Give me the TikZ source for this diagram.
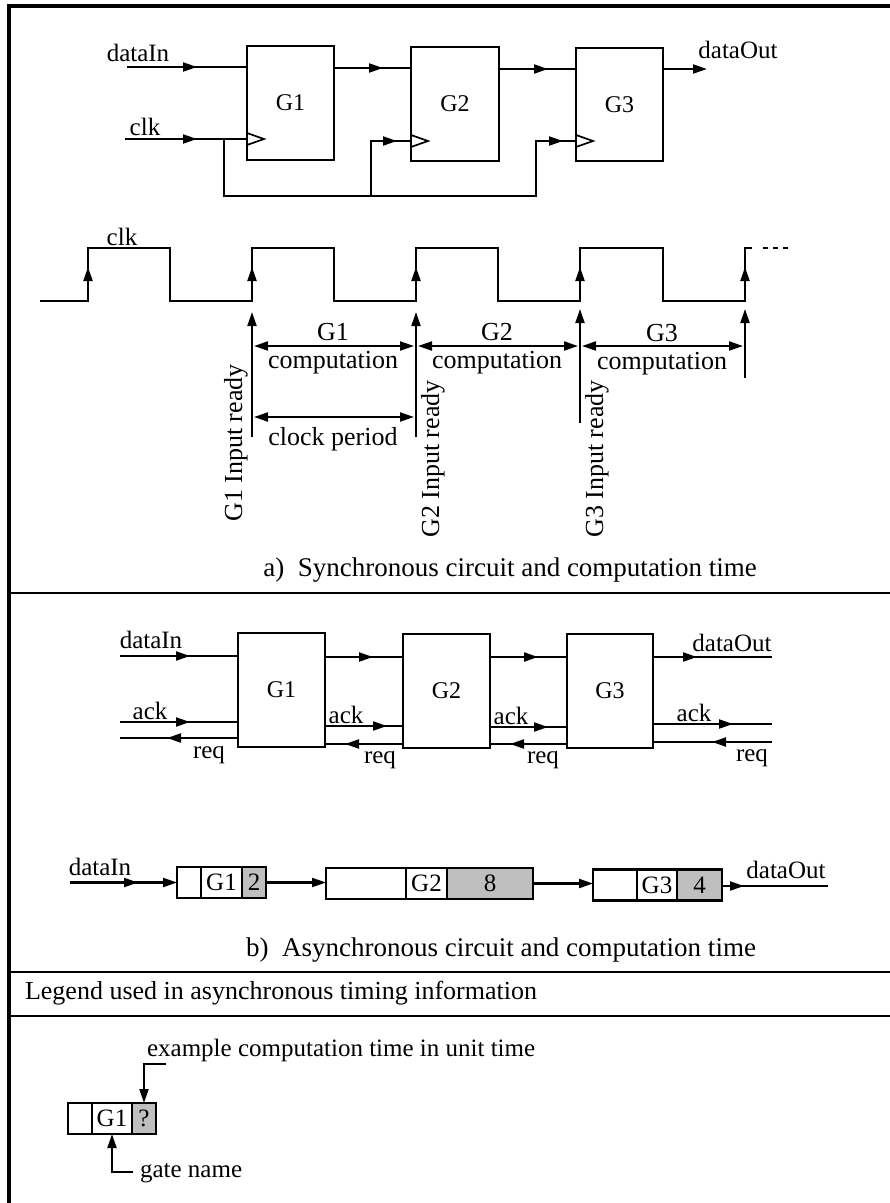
\documentclass[tikz,border=0pt]{standalone}
\usepackage{fontspec}
\setmainfont{Liberation Serif}
\usetikzlibrary{arrows.meta,decorations.markings}
\begin{document}
\begin{tikzpicture}[x=1pt,y=-1pt,line width=2.1pt,
  >={Triangle[length=14pt,width=9pt]},
  marr/.style={postaction={decorate},decoration={markings,mark=at position #1 with {\arrow{>}}}},
  gbox/.style={draw,rectangle,inner sep=0pt,outer sep=0pt,anchor=north west,font=\fontsize{24}{26}\selectfont},
  lab/.style={inner sep=0pt,font=\fontsize{25}{27}\selectfont},
  tlab/.style={inner sep=0pt,font=\fontsize{26}{28}\selectfont},
  rot/.style={inner sep=0pt,rotate=90,font=\fontsize{26}{28}\selectfont},
  captext/.style={inner sep=0pt,font=\fontsize{27}{29}\selectfont},
  cell/.style={draw,rectangle,inner sep=0pt,outer sep=0pt,anchor=west,minimum height=31pt,font=\fontsize{25}{27}\selectfont},
  gcell/.style={cell,fill=gray!50},
  sepline/.style={line width=2.5pt}]
\useasboundingbox (0,0) rectangle (890,1203);
\fill[white] (0,0) rectangle (890,1203);
% frame
\draw[line width=4pt] (9,1203) -- (9,5.5) -- (890,5.5);
\draw[sepline] (9,593) -- (890,593);
\draw[sepline] (9,972) -- (890,972);
\draw[sepline] (9,1016) -- (890,1016);

% ================= a) synchronous circuit
\node[gbox,minimum width=87pt,minimum height=114pt] (A1) at (247,46) {G1};
\node[gbox,minimum width=88pt,minimum height=114pt] (A2) at (411,47) {G2};
\node[gbox,minimum width=87pt,minimum height=113pt] (A3) at (576,48) {G3};
\node[lab] (tdin) at (138,53) {dataIn};
\node[lab] (tclk) at (145,127) {clk};
\node[lab] (tdout) at (738,50) {dataOut};
% clock triangles
\draw[line width=1.7pt] (247,133) -- (264,139) -- (247,145);
\draw[line width=1.7pt] (411,135) -- (428,141) -- (411,147);
\draw[line width=1.7pt] (576,135) -- (593,141) -- (576,147);
% data connectors
\coordinate (din0) at (127,67);
\draw[marr=70pt] (din0) -- (din0 -| A1.west);
\coordinate (A1o) at (334,68);
\draw[marr=49pt] (A1o) -- (A1o -| A2.west);
\coordinate (A2o) at (499,69);
\draw[marr=49pt] (A2o) -- (A2o -| A3.west);
\coordinate (A3o) at (663,69);
\coordinate (dout) at (707,69);
\draw[->] (A3o) -- (dout);
% clock connectors
\coordinate (clk0) at (125,139);
\draw[marr=72pt] (clk0) -- (clk0 -| A1.west);
\coordinate (br0) at (224,139);
\coordinate (br1) at (371,196);
\coordinate (br3) at (536,196);
\coordinate (A2ck) at (411,141);
\coordinate (A3ck) at (576,141);
\draw[marr=-14pt] (br0) |- (br1) |- (A2ck);
\draw[marr=-13pt] (br1) -- (br3) |- (A3ck);

% clock waveform
\node[lab] (wclk) at (122,237) {clk};
\draw (40,301) -- (88,301) -- (88,248) -- (170,248) -- (170,301) -- (252,301) -- (252,248)
  -- (334,248) -- (334,301) -- (416,301) -- (416,248) -- (498,248) -- (498,301) -- (580,301)
  -- (580,248) -- (663,248) -- (663,301) -- (745,301) -- (745,248) -- (752,248);
\draw[dash pattern=on 5pt off 5pt] (763,248) -- (790,248);
\foreach \xx in {88,252,416,580,745} { \draw[->] (\xx,301) -- (\xx,267); }

% input-ready arrows
\coordinate (r1b) at (252,437); \coordinate (r1t) at (252,312);
\coordinate (r2b) at (416,437); \coordinate (r2t) at (416,312);
\coordinate (r3b) at (580,423); \coordinate (r3t) at (580,309);
\coordinate (r4b) at (745,378); \coordinate (r4t) at (745,309);
\draw[->] (r1b) -- (r1t);
\draw[->] (r2b) -- (r2t);
\draw[->] (r3b) -- (r3t);
\draw[->] (r4b) -- (r4t);
% durations
\coordinate (c1a) at (254,346); \coordinate (c1b) at (414,346);
\coordinate (c2a) at (418,346); \coordinate (c2b) at (578,346);
\coordinate (c3a) at (582,346); \coordinate (c3b) at (743,346);
\coordinate (p1a) at (254,417); \coordinate (p1b) at (414,417);
\draw[<->] (c1a) -- (c1b);
\draw[<->] (c2a) -- (c2b);
\draw[<->] (c3a) -- (c3b);
\draw[<->] (p1a) -- (p1b);
\node[tlab] (g1t) at (333,332) {G1};
\node[tlab] (g1c) at (333,363) {computation};
\node[tlab] (g1p) at (333,439) {clock period};
\node[tlab] (g2t) at (497,332) {G2};
\node[tlab] (g2c) at (497,363) {computation};
\node[tlab] (g3t) at (662,333) {G3};
\node[tlab] (g3c) at (662,364) {computation};
\node[rot] (rd1) at (236,443) {G1 Input ready};
\node[rot] (rd2) at (433,459) {G2 Input ready};
\node[rot] (rd3) at (597,459) {G3 Input ready};
\node[captext] (capa) at (510,570) {a)\ \ Synchronous circuit and computation time};

% ================= b) asynchronous circuit
\node[gbox,minimum width=87pt,minimum height=114pt] (B1) at (238,633) {G1};
\node[gbox,minimum width=87pt,minimum height=114pt] (B2) at (403,634) {G2};
\node[gbox,minimum width=86pt,minimum height=114pt] (B3) at (567,634) {G3};
\node[lab] (bdin) at (151,640) {dataIn};
\node[lab] (back0) at (150,711) {ack};
\node[lab] (breq0) at (209,755) {req};
\node[lab] (back1) at (346,715) {ack};
\node[lab] (breq1) at (380,760) {req};
\node[lab] (back2) at (511,716) {ack};
\node[lab] (breq2) at (543,760) {req};
\node[lab] (bdout) at (732,643) {dataOut};
\node[lab] (back3) at (694,713) {ack};
\node[lab] (breq3) at (752,758) {req};
% inputs
\coordinate (bd0) at (120,656);
\draw[marr=70pt] (bd0) -- (bd0 -| B1.west);
\coordinate (ba0) at (120,722);
\draw[marr=70pt] (ba0) -- (ba0 -| B1.west);
\coordinate (bq0) at (120,738);
\draw[marr=71pt] (bq0 -| B1.west) -- (bq0);
% between G1 and G2
\coordinate (bd1) at (325,657);
\draw[marr=48pt] (bd1) -- (bd1 -| B2.west);
\coordinate (ba1) at (325,726);
\draw[marr=62pt] (ba1) -- (ba1 -| B2.west);
\coordinate (bq1) at (325,744);
\draw[marr=58pt] (bq1 -| B2.west) -- (bq1);
% between G2 and G3
\coordinate (bd2) at (490,657);
\draw[marr=48pt] (bd2) -- (bd2 -| B3.west);
\coordinate (ba2) at (490,727);
\draw[marr=58pt] (ba2) -- (ba2 -| B3.west);
\coordinate (bq2) at (490,744);
\draw[marr=57pt] (bq2 -| B3.west) -- (bq2);
% outputs
\coordinate (bd3) at (772,657);
\draw[marr=44pt] (bd3 -| B3.east) -- (bd3);
\coordinate (ba3) at (772,724);
\draw[marr=80pt] (ba3 -| B3.east) -- (ba3);
\coordinate (bq3) at (772,742);
\draw[marr=60pt] (bq3) -- (bq3 -| B3.east);

% asynchronous timing row
\node[cell,minimum width=24pt] (t1a) at (177,882.5) {};
\node[cell,minimum width=41pt] (t1b) at (201,882.5) {G1};
\node[gcell,minimum width=24pt] (t1c) at (242,882.5) {2};
\node[cell,minimum width=80pt] (t2a) at (326,883.5) {};
\node[cell,minimum width=41pt] (t2b) at (406,883.5) {G2};
\node[gcell,minimum width=86pt] (t2c) at (447,883.5) {8};
\node[cell,minimum width=44pt] (t3a) at (593,885) {};
\node[cell,minimum width=40pt] (t3b) at (637,885) {G3};
\node[gcell,minimum width=45pt] (t3c) at (677,885) {4};
\node[lab] (tdin2) at (100,867) {dataIn};
\node[lab] (tdout2) at (786,870) {dataOut};
\coordinate (rin) at (70,882.5);
\draw[->,marr=68pt] (rin) -- (t1a.west);
\draw[->] (t1c.east) -- (t1c.east -| t2a.west);
\draw[->] (t2c.east) -- (t2c.east -| t3a.west);
\coordinate (rout) at (828,886);
\draw[marr=22pt] (t3c.east |- rout) -- (rout);
\node[captext] (capb) at (501,950) {b)\ \ Asynchronous circuit and computation time};

% ================= legend
\node[tlab,anchor=west] (legt) at (24,993) {Legend used in asynchronous timing information};
\node[cell,minimum width=24pt] (l1) at (68,1118.5) {};
\node[cell,minimum width=40pt] (l2) at (92,1118.5) {G1};
\node[gcell,minimum width=24pt] (l3) at (132,1118.5) {?};
\node[lab,anchor=west] (lex) at (146,1050) {example computation time in unit time};
\node[lab,anchor=west] (lgn) at (139,1173) {gate name};
\coordinate (ex0) at (166,1064);
\draw[->] (ex0) -| (l3.north);
\coordinate (gn0) at (133,1172);
\draw[->] (gn0) -| (l2.south);
\end{tikzpicture}
\end{document}
